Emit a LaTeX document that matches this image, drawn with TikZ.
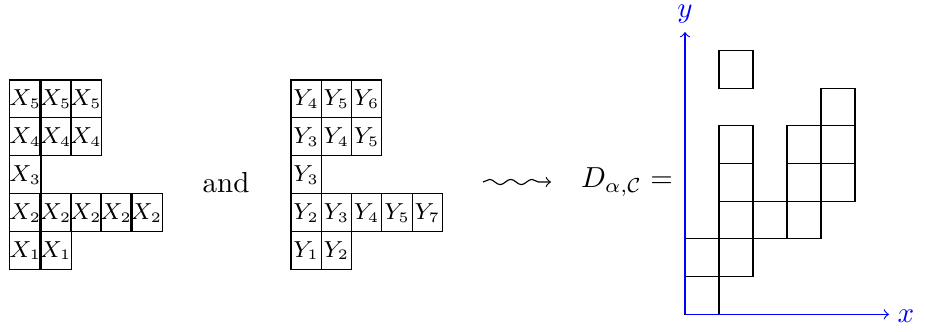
\documentclass[tikz,border=0pt]{standalone}
\usetikzlibrary{decorations.pathmorphing}
\begin{document}
\begin{tikzpicture}[x=0.345pt,y=-0.345pt,
  cellx/.style={draw, inner sep=0pt, outer sep=0pt, minimum width=10.4535pt, minimum height=13.0755pt, anchor=north west, font=\fontsize{7.6}{9}\selectfont},
  celld/.style={draw, inner sep=0pt, outer sep=0pt, minimum width=11.73pt, minimum height=13.0065pt, anchor=south west},
  axisline/.style={blue, ->},
  axislabel/.style={blue, inner sep=0pt}]
\useasboundingbox (0,0) rectangle (925,331);
% left tableau
\foreach \r/\lst in {0/{5,5,5},1/{4,4,4},2/{3},3/{2,2,2,2,2},4/{1,1}} {
  \foreach \s [count=\c from 0] in \lst {
    \node[cellx] (x-\r-\c) at ({9.5+30.3*\c},{80+37.9*\r}) {$X_{\s}$};
  }
}
% middle tableau
\foreach \r/\lst in {0/{4,5,6},1/{3,4,5},2/{3},3/{2,3,4,5,7},4/{1,2}} {
  \foreach \s [count=\c from 0] in \lst {
    \node[cellx] (y-\r-\c) at ({291+30.3*\c},{80+37.9*\r}) {$Y_{\s}$};
  }
}
\node (and) at (226,183) {and};
\coordinate (s1) at (483,182);
\coordinate (s2) at (551,182);
\draw[->, decorate, decoration={snake, amplitude=0.9pt, segment length=7.3pt, post length=3pt}] (s1) -- (s2);
\node (D) at (627,182) {$D_{\alpha,\mathcal{C}} =$};
% diagram cells
\foreach \c/\r in {0/0,0/1,1/1,1/2,2/2,3/2,1/3,3/3,4/3,1/4,3/4,4/4,4/5,1/6} {
  \node[celld] (d-\c-\r) at ({685+34*\c},{314.3-37.7*\r}) {};
}
% axes
\coordinate (O) at (685,314.3);
\coordinate (ytop) at (685,32);
\coordinate (xend) at (889,314.3);
\draw[axisline] (O) -- (ytop);
\draw[axisline] (O) -- (xend);
\node[axislabel] (ylab) at (685,14) {$y$};
\node[axislabel] (xlab) at (906,316) {$x$};
\end{tikzpicture}
\end{document}
